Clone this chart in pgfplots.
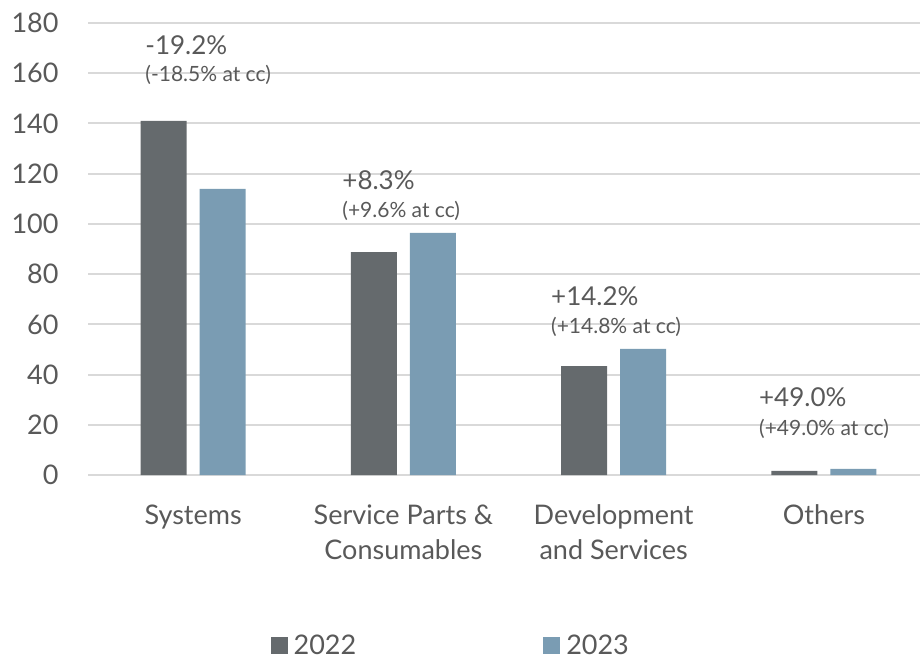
\documentclass[border=0pt]{standalone}
\usepackage{fontspec}
\setmainfont{Lato}
\usepackage{pgfplots}
\pgfplotsset{compat=1.18}

\definecolor{gridgray}{HTML}{D9D9D9}
\definecolor{txtgray}{HTML}{595959}
\definecolor{c2022}{HTML}{656A6D}
\definecolor{c2023}{HTML}{7A9CB3}

\begin{document}
\begin{tikzpicture}
\begin{axis}[
    scale only axis,
    width=832pt, height=452pt,
    ybar=13pt,
    bar width=46pt,
    xmin=-0.5, xmax=3.457,
    ymin=0, ymax=180,
    ytick={0,20,...,180},
    xtick={0,1,2,3},
    xticklabels={Systems, Service Parts \&\\Consumables, Development\\and Services, Others},
    axis line style={draw=none},
    major tick length=0pt,
    ymajorgrids,
    grid style={gridgray, line width=2pt},
    font=\fontsize{27}{35}\selectfont,
    /pgf/number format/assume math mode=true,
    ticklabel style={text=txtgray},
    yticklabel style={anchor=east, xshift=-26pt},
    xticklabel style={align=center, anchor=north, yshift=-26pt},
    clip=false,
    legend style={at={(rel axis cs:0.436,-0.378)}, anchor=center, draw=none,
        legend columns=2, text=txtgray, font=\fontsize{27}{32}\selectfont},
    /tikz/every even column/.append style={column sep=185pt},
    legend image code/.code={\fill[#1] (0pt,-8pt) rectangle (17pt,9pt);},
    legend cell align=left,
]
\addplot[fill=c2022, draw=none] coordinates {(0,141.0) (1,88.8) (2,43.4) (3,1.6)};
\addplot[fill=c2023, draw=none] coordinates {(0,113.9) (1,96.4) (2,50.2) (3,2.4)};
\legend{\hspace{4pt}2022, \hspace{4pt}2023}

% growth annotations (pixel positions converted to axis units)
\tikzset{big/.style={anchor=base west, inner sep=0pt, text=txtgray, font=\fontsize{26}{30}\selectfont},
         small/.style={anchor=base west, inner sep=0pt, text=txtgray, font=\fontsize{21}{25}\selectfont}}
\node[big]   at (axis cs:-0.228,167.6) {-19.2\%};
\node[small] at (axis cs:-0.228,156.8) {(-18.5\% at cc)};
\node[big]   at (axis cs:0.709,113.5) {+8.3\%};
\node[small] at (axis cs:0.709,102.7) {(+9.6\% at cc)};
\node[big]   at (axis cs:1.702,67.7) {+14.2\%};
\node[small] at (axis cs:1.702,56.5) {(+14.8\% at cc)};
\node[big]   at (axis cs:2.691,27.1) {+49.0\%};
\node[small] at (axis cs:2.691,15.9) {(+49.0\% at cc)};

\coordinate (bl) at (rel axis cs:-0.1058,-0.4137);
\coordinate (tr) at (rel axis cs:1,1.0509);
\end{axis}
\pgfresetboundingbox
\useasboundingbox (bl) rectangle (tr);
\end{tikzpicture}
\end{document}
